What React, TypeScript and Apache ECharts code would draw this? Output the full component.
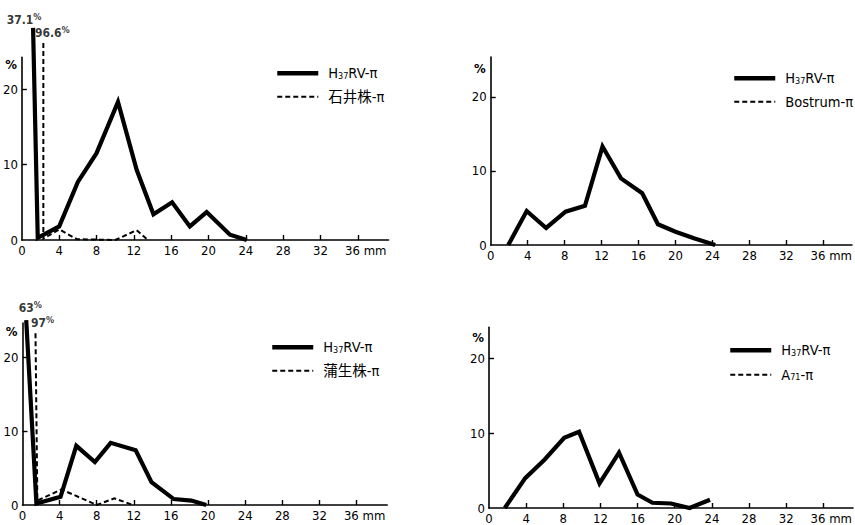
import React, { useEffect, useRef } from "react";
import * as echarts from "echarts";

// ---------- data ----------
const X_TICKS = [0, 4, 8, 12, 16, 20, 24, 28, 32, 36];
const Y_TICKS = [0, 10, 20];

const REF_NAME = "H37RV-π";
const P1_NAME = "石井株-π";
const P2_NAME = "Bostrum-π";
const P3_NAME = "蒲生株-π";
const P4_NAME = "A71-π";

// panel 1 (top left)
const P1_REF_X = [1.2, 1.7, 4, 6, 8, 10.3, 12.3, 14.1, 16.1, 18, 19.8, 22.3, 24.1];
const P1_REF_Y = [37.1, 0.3, 1.8, 7.7, 11.5, 18.3, 9.3, 3.4, 5.0, 1.8, 3.7, 0.7, 0];
const P1_CMP_X = [2.3, 2.3, 4, 5.9, 10, 12.3, 13.5];
const P1_CMP_Y = [96.6, 0.2, 1.4, 0.1, 0, 1.3, 0];
const P1_REF_BREAK = 28.1; // printed height of the truncated spike
const P1_CMP_BREAK = 26.1;

// panel 2 (top right)
const P2_REF_X = [1.9, 3.9, 6, 8.1, 10.2, 12.1, 14.1, 16.4, 18.1, 20, 22, 24.3];
const P2_REF_Y = [0, 4.6, 2.3, 4.5, 5.3, 13.3, 9.0, 7.0, 2.8, 1.8, 0.9, 0];
const P2_CMP_X: number[] = [];
const P2_CMP_Y: number[] = [];

// panel 3 (bottom left)
const P3_REF_X = [0.4, 1.5, 4.1, 5.8, 7.8, 9.5, 12.2, 13.9, 16.3, 18.2, 19.8];
const P3_REF_Y = [63, 0.2, 1.1, 8.0, 5.8, 8.4, 7.4, 3.1, 0.8, 0.6, 0];
const P3_CMP_X = [1.4, 1.6, 4.2, 8, 9.9, 11.9];
const P3_CMP_Y = [97, 0.6, 2.1, 0, 0.9, 0];
const P3_REF_BREAK = 25.0;
const P3_CMP_BREAK = 23.2;

// panel 4 (bottom right)
const P4_REF_X = [1.7, 3.9, 6, 8.1, 9.7, 11.9, 14, 16, 17.6, 19.6, 21.6, 23.8];
const P4_REF_Y = [0, 4.0, 6.5, 9.4, 10.2, 3.3, 7.4, 1.8, 0.7, 0.6, 0, 1.1];
const P4_CMP_X: number[] = [];
const P4_CMP_Y: number[] = [];

// ---------- styling ----------
const FONT = '"DejaVu Sans Condensed", "Liberation Sans Narrow", "Noto Sans CJK JP", sans-serif';
const CJK = '"DejaVu Sans Condensed", "Noto Sans CJK JP", sans-serif';

const zip = (xs: number[], ys: number[], cap = Infinity) =>
  xs.map((x, i) => [x, Math.min(ys[i], cap)]);

type Panel = {
  grid: { left: number; top: number; width: number; height: number };
  xMax: number;
  yMax: number;
  nameGap: number;
  legend: { left: number; top: number; gap: number };
  cmpName: string;
  refX: number[];
  refY: number[];
  cmpX: number[];
  cmpY: number[];
  refBreak?: number;
  cmpBreak?: number;
  refOffset?: number[];
  cmpOffset?: number[];
};

const PANELS: Panel[] = [
  {
    grid: { left: 21.6, top: 57.3, width: 367, height: 182.7 },
    xMax: 39.3, yMax: 24.2, nameGap: -14,
    legend: { left: 270, top: 61, gap: 9 },
    cmpName: P1_NAME,
    refX: P1_REF_X, refY: P1_REF_Y, cmpX: P1_CMP_X, cmpY: P1_CMP_Y,
    refBreak: P1_REF_BREAK, cmpBreak: P1_CMP_BREAK,
    refOffset: [-9, -8], cmpOffset: [9, -10],
  },
  {
    grid: { left: 490.7, top: 57, width: 364.3, height: 188 },
    xMax: 39.1, yMax: 25.4, nameGap: -18,
    legend: { left: 727, top: 66, gap: 9 },
    cmpName: P2_NAME,
    refX: P2_REF_X, refY: P2_REF_Y, cmpX: P2_CMP_X, cmpY: P2_CMP_Y,
  },
  {
    grid: { left: 22.5, top: 323, width: 364.7, height: 182 },
    xMax: 39.3, yMax: 24.6, nameGap: -15,
    legend: { left: 265, top: 335, gap: 9 },
    cmpName: P3_NAME,
    refX: P3_REF_X, refY: P3_REF_Y, cmpX: P3_CMP_X, cmpY: P3_CMP_Y,
    refBreak: P3_REF_BREAK, cmpBreak: P3_CMP_BREAK,
    refOffset: [4, -12], cmpOffset: [7, -10],
  },
  {
    grid: { left: 489, top: 327.3, width: 366, height: 182.7 },
    xMax: 39.2, yMax: 24.2, nameGap: -17,
    legend: { left: 723, top: 338, gap: 10 },
    cmpName: P4_NAME,
    refX: P4_REF_X, refY: P4_REF_Y, cmpX: P4_CMP_X, cmpY: P4_CMP_Y,
  },
];

const pctLabel = (v: number) => `{n|${v}}{p|%}`;

function buildOption() {
  const grid: any[] = [];
  const xAxis: any[] = [];
  const yAxis: any[] = [];
  const series: any[] = [];
  const legend: any[] = [];

  PANELS.forEach((p, i) => {
    grid.push({ ...p.grid, containLabel: false });
    xAxis.push({
      type: "value",
      gridIndex: i,
      min: 0,
      max: p.xMax,
      axisLine: { show: true, onZero: true, lineStyle: { color: "#000", width: 1.6 } },
      axisTick: { show: true, inside: true, length: 5, customValues: X_TICKS.slice(1), lineStyle: { color: "#000", width: 1.4 } },
      axisLabel: {
        show: true,
        customValues: X_TICKS,
        margin: 4,
        color: "#000",
        fontSize: 13,
        fontFamily: FONT,
        formatter: (v: number) => (v === X_TICKS[X_TICKS.length - 1] ? `{mm|${v} mm}` : String(v)),
        rich: { mm: { fontSize: 13, fontFamily: FONT, color: "#000", padding: [0, 0, 0, 16] } },
      },
      splitLine: { show: false },
    });
    yAxis.push({
      type: "value",
      gridIndex: i,
      min: 0,
      max: p.yMax,
      name: "%",
      nameLocation: "end",
      nameGap: p.nameGap,
      nameTextStyle: { color: "#000", fontSize: 13, fontFamily: FONT, fontWeight: "bold", align: "right", padding: [0, 5, 0, 0] },
      axisLine: { show: true, lineStyle: { color: "#000", width: 1.6 } },
      axisTick: { show: true, inside: true, length: 5, customValues: Y_TICKS.slice(1), lineStyle: { color: "#000", width: 1.4 } },
      axisLabel: { show: true, customValues: Y_TICKS, margin: 4, color: "#000", fontSize: 13, fontFamily: FONT },
      splitLine: { show: false },
    });

    series.push({
      type: "line",
      name: REF_NAME,
      xAxisIndex: i,
      yAxisIndex: i,
      data: zip(p.refX, p.refY, p.refBreak ?? Infinity),
      symbol: "none",
      clip: false,
      z: 3,
      lineStyle: { color: "#000", width: 4.2, type: "solid", join: "miter" },
      itemStyle: { color: "#000" },
    });
    series.push({
      type: "line",
      name: p.cmpName,
      xAxisIndex: i,
      yAxisIndex: i,
      data: zip(p.cmpX, p.cmpY, p.cmpBreak ?? Infinity),
      symbol: "none",
      clip: false,
      z: 2,
      lineStyle: { color: "#000", width: 2, type: [5, 3], join: "miter" },
      itemStyle: { color: "#000" },
    });

    // labels of the truncated spikes
    const spikes: any[] = [];
    const addSpike = (xs: number[], ys: number[], cap: number | undefined, off: number[] | undefined) => {
      if (cap === undefined) return;
      ys.forEach((v, k) => {
        if (v > cap) {
          spikes.push({
            value: [xs[k], cap],
            label: { offset: off ?? [0, -10], formatter: pctLabel(v) },
          });
        }
      });
    };
    addSpike(p.refX, p.refY, p.refBreak, p.refOffset);
    addSpike(p.cmpX, p.cmpY, p.cmpBreak, p.cmpOffset);
    if (spikes.length) {
      series.push({
        type: "scatter",
        name: "spike-" + i,
        xAxisIndex: i,
        yAxisIndex: i,
        data: spikes,
        symbolSize: 1,
        clip: false,
        itemStyle: { color: "rgba(0,0,0,0)" },
        label: {
          show: true,
          position: "inside",
          color: "#000",
          rich: {
            n: { fontSize: 12, fontFamily: FONT, fontWeight: "bold", color: "#000" },
            p: { fontSize: 9, fontFamily: FONT, fontWeight: "bold", color: "#000", padding: [0, 0, 6, 0] },
          },
        },
        silent: true,
      });
    }

    legend.push({
      data: [
        { name: REF_NAME, lineStyle: { width: 4.5, color: "#000", type: "solid" } },
        { name: p.cmpName, lineStyle: { width: 2, color: "#000", type: [5, 3] } },
      ],
      orient: "vertical",
      left: p.legend.left,
      top: p.legend.top,
      itemGap: p.legend.gap,
      itemWidth: 41,
      itemHeight: 10,
      selectedMode: false,
      itemStyle: { color: "rgba(0,0,0,0)", borderWidth: 0, opacity: 0 },
      textStyle: {
        color: "#000",
        fontSize: 14.5,
        fontFamily: CJK,
        padding: [0, 0, 0, 5],
        rich: {
          s: { fontSize: 9, fontFamily: FONT, color: "#000", padding: [5, 0, 0, 0] },
        },
      },
      formatter: (name: string) => {
        if (name === REF_NAME) return "H{s|37}RV-π";
        if (name === P4_NAME) return "A{s|71}-π";
        return name;
      },
    });
  });

  return {
    animation: false,
    backgroundColor: "#fff",
    grid,
    xAxis,
    yAxis,
    series,
    legend,
  };
}

export default function App() {
  const ref = useRef<HTMLDivElement>(null);
  useEffect(() => {
    if (!ref.current) return;
    const chart = echarts.init(ref.current, undefined, { renderer: "svg" });
    chart.setOption(buildOption() as any);
    return () => chart.dispose();
  }, []);
  return (
    <div
      ref={ref}
      style={{ position: "fixed", left: 0, top: 0, width: 855, height: 525, background: "#fff" }}
    />
  );
}
